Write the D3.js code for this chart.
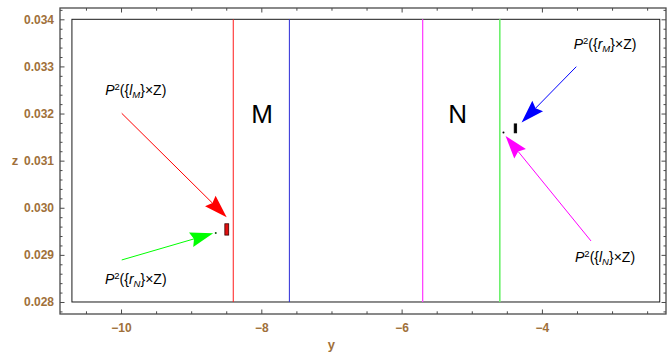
<!DOCTYPE html>
<html>
<head>
<meta charset="utf-8">
<script src="https://cdn.jsdelivr.net/npm/d3@7"></script>
<style>
  html, body { margin: 0; padding: 0; background: #fff; }
  svg { display: block; }
  text { font-family: "Liberation Sans", Arial, Helvetica, sans-serif; }
</style>
</head>
<body>
<svg id="chart" width="667" height="354"></svg>
<script>
// ---- data ----
// frame (plot range incl. padding) and inner plot region, in data units
const frameY = [-10.87, -2.231];
const frameZ = [0.027745, 0.03424];
const regionY = [-10.70, -2.32];
const regionZ = [0.028, 0.034];

// tick labels
const yMajorTicks = [-10, -8, -6, -4];
const zMajorTicks = [0.028, 0.029, 0.030, 0.031, 0.032, 0.033, 0.034];

// the two slabs M and N: boundary positions and their line colours
const slabNames = ["M", "N"];
const slabLeft = [-8.40, -5.70];
const slabRight = [-7.60, -4.60];
const slabLeftColor = ["#ff1a1a", "#ff44ff"];
const slabRightColor = ["#2b2bd6", "#6cf06c"];
const slabLabelZ = 0.0318;
const slabLabelY = [-7.99, -5.20];

// small image sets
const rectNames = ["P2(lM x Z)", "P2(rM x Z)"];
const rectY0 = [-8.52, -4.395];
const rectY1 = [-8.465, -4.36];
const rectZ0 = [0.02942, 0.03159];
const rectZ1 = [0.02966, 0.03178];
const rectFill = ["#e01010", "#000000"];
const rectStroke = ["#3a0000", "#000000"];

const dotY = [-8.65, -4.548];
const dotZ = [0.029465, 0.031597];
const dotColor = ["#0a5a0a", "#000000"];

// annotation arrows with labels P^2({s_X}×Z)
const annSide = ["l", "r", "r", "l"];
const annSlab = ["M", "N", "M", "N"];
const annColor = ["#ff0000", "#00ff00", "#0000ff", "#ff00ff"];
const annFromY = [-9.99, -9.99, -3.51, -3.30];
const annFromZ = [0.032005, 0.028892, 0.032994, 0.029295];
const annToY = [-8.494, -8.686, -4.29, -4.518];
const annToZ = [0.02980, 0.029458, 0.03181, 0.031523];
const annLabelY = [-9.79, -9.79, -3.10, -3.10];
const annLabelZ = [0.03240, 0.02838, 0.03338, 0.028854];

// ---- drawing ----
const svg = d3.select("#chart");
const mLeft = 60, mTop = 8, mRight = 666, mBottom = 314;

const x = d3.scaleLinear().domain(frameY).range([mLeft, mRight]);
const y = d3.scaleLinear().domain(frameZ).range([mBottom, mTop]);

const labelColor = "#a0703a";
const frameColor = "#4a4a4a";

// inner region rectangle
svg.append("rect")
  .attr("x", x(regionY[0])).attr("y", y(regionZ[1]))
  .attr("width", x(regionY[1]) - x(regionY[0]))
  .attr("height", y(regionZ[0]) - y(regionZ[1]))
  .attr("fill", "none").attr("stroke", "#1a1a1a").attr("stroke-width", 1);

// slab boundaries
slabNames.forEach((name, i) => {
  svg.append("line")
    .attr("x1", x(slabLeft[i])).attr("x2", x(slabLeft[i]))
    .attr("y1", y(regionZ[0])).attr("y2", y(regionZ[1]))
    .attr("stroke", slabLeftColor[i]).attr("stroke-width", i === 0 ? 1 : 1.3);
  svg.append("line")
    .attr("x1", x(slabRight[i])).attr("x2", x(slabRight[i]))
    .attr("y1", y(regionZ[0])).attr("y2", y(regionZ[1]))
    .attr("stroke", slabRightColor[i]).attr("stroke-width", i === 0 ? 1 : 1.6);
  svg.append("text")
    .attr("x", x(slabLabelY[i])).attr("y", y(slabLabelZ))
    .attr("text-anchor", "middle")
    .attr("font-size", 26)
    .attr("fill", "#000")
    .text(name);
});

// image rectangles and dots
rectNames.forEach((n, i) => {
  svg.append("rect")
    .attr("x", x(rectY0[i])).attr("y", y(rectZ1[i]))
    .attr("width", x(rectY1[i]) - x(rectY0[i]))
    .attr("height", y(rectZ0[i]) - y(rectZ1[i]))
    .attr("fill", rectFill[i]).attr("stroke", rectStroke[i]).attr("stroke-width", 0.8);
});
dotY.forEach((d, i) => {
  svg.append("circle")
    .attr("cx", x(dotY[i])).attr("cy", y(dotZ[i])).attr("r", 1)
    .attr("fill", dotColor[i]);
});

// arrows
const headLen = 23, headHalf = 7.5, notch = 3;
annSide.forEach((s, i) => {
  const x0 = x(annFromY[i]), y0 = y(annFromZ[i]);
  const x1 = x(annToY[i]), y1 = y(annToZ[i]);
  const dx = x1 - x0, dy = y1 - y0, len = Math.hypot(dx, dy);
  const ux = dx / len, uy = dy / len, nx = -uy, ny = ux;
  const bx = x1 - headLen * ux, by = y1 - headLen * uy;
  const mx = x1 - (headLen - notch) * ux, my = y1 - (headLen - notch) * uy;
  svg.append("line")
    .attr("x1", x0).attr("y1", y0).attr("x2", mx).attr("y2", my)
    .attr("stroke", annColor[i]).attr("stroke-width", 1);
  svg.append("polygon")
    .attr("points", [[x1, y1], [bx + headHalf * nx, by + headHalf * ny], [mx, my], [bx - headHalf * nx, by - headHalf * ny]].map(p => p.join(",")).join(" "))
    .attr("fill", annColor[i]);

  const t = svg.append("text")
    .attr("x", x(annLabelY[i])).attr("y", y(annLabelZ[i]))
    .attr("text-anchor", "middle")
    .attr("font-size", 14)
    .attr("fill", "#000");
  t.append("tspan").attr("font-style", "italic").text("P");
  t.append("tspan").attr("font-size", 9.5).attr("baseline-shift", "5.5").text("2");
  t.append("tspan").text("({");
  t.append("tspan").attr("font-style", "italic").text(s);
  t.append("tspan").attr("font-style", "italic").attr("font-size", 9.5).attr("baseline-shift", "-3").text(annSlab[i]);
  t.append("tspan").text("}×Z)");
});

// frame
svg.append("rect")
  .attr("x", mLeft).attr("y", mTop)
  .attr("width", mRight - mLeft).attr("height", mBottom - mTop)
  .attr("fill", "none").attr("stroke", frameColor).attr("stroke-width", 1.3);

// ticks
const yMinor = d3.range(-10.5, -2.0, 0.5).filter(v => !yMajorTicks.some(m => Math.abs(m - v) < 1e-9));
const zMinor = d3.range(0.0278, 0.03421, 0.0002).filter(v => !zMajorTicks.some(m => Math.abs(m - v) < 1e-9));

function styleAxis(g) {
  g.select(".domain").remove();
  g.selectAll(".tick line").attr("stroke", frameColor).attr("stroke-width", 1);
  g.selectAll(".tick text")
    .attr("fill", labelColor)
    .attr("font-size", 12)
    .attr("font-weight", "bold")
    .attr("font-family", "'Liberation Sans', Arial, sans-serif");
}

// bottom
svg.append("g").attr("transform", `translate(0,${mBottom})`)
  .call(d3.axisBottom(x).tickValues(yMinor).tickSize(-2.7).tickFormat(""))
  .call(styleAxis);
svg.append("g").attr("transform", `translate(0,${mBottom})`)
  .call(d3.axisBottom(x).tickValues(yMajorTicks).tickSize(-4.5).tickPadding(9).tickFormat(d3.format("d")))
  .call(styleAxis);
// top
svg.append("g").attr("transform", `translate(0,${mTop})`)
  .call(d3.axisTop(x).tickValues(yMinor).tickSize(-2.7).tickFormat(""))
  .call(styleAxis);
svg.append("g").attr("transform", `translate(0,${mTop})`)
  .call(d3.axisTop(x).tickValues(yMajorTicks).tickSize(-4.5).tickFormat(""))
  .call(styleAxis);
// left
svg.append("g").attr("transform", `translate(${mLeft},0)`)
  .call(d3.axisLeft(y).tickValues(zMinor).tickSize(-2.5).tickFormat(""))
  .call(styleAxis);
svg.append("g").attr("transform", `translate(${mLeft},0)`)
  .call(d3.axisLeft(y).tickValues(zMajorTicks).tickSize(-4.5).tickPadding(6).tickFormat(d3.format(".3f")))
  .call(styleAxis);
// right
svg.append("g").attr("transform", `translate(${mRight},0)`)
  .call(d3.axisRight(y).tickValues(zMinor).tickSize(-2.5).tickFormat(""))
  .call(styleAxis);
svg.append("g").attr("transform", `translate(${mRight},0)`)
  .call(d3.axisRight(y).tickValues(zMajorTicks).tickSize(-4.5).tickFormat(""))
  .call(styleAxis);

// axis labels
svg.append("text")
  .attr("x", x(-7.0)).attr("y", 349)
  .attr("text-anchor", "middle")
  .attr("font-size", 13).attr("font-weight", "bold")
  .attr("fill", labelColor).text("y");
svg.append("text")
  .attr("x", 15).attr("y", y(0.031))
  .attr("dy", "0.35em")
  .attr("text-anchor", "middle")
  .attr("font-size", 13).attr("font-weight", "bold")
  .attr("fill", labelColor).text("z");
</script>
</body>
</html>
